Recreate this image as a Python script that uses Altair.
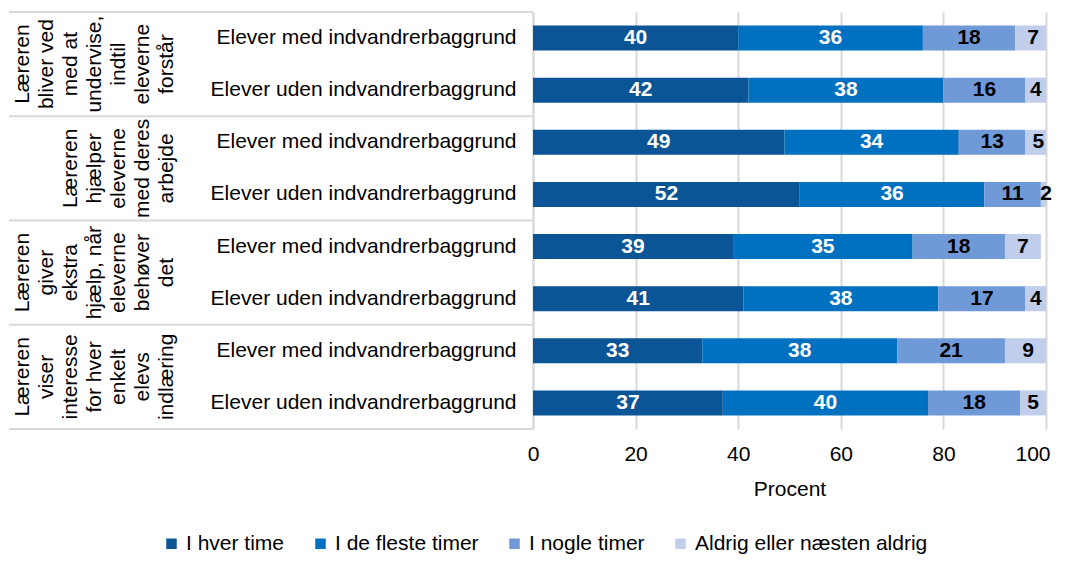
import altair as alt
import pandas as pd

groups = [
    "Læreren\nbliver ved\nmed at\nundervise,\nindtil\neleverne\nforstår",
    "Læreren\nhjælper\neleverne\nmed deres\narbejde",
    "Læreren\ngiver\nekstra\nhjælp, når\neleverne\nbehøver\ndet",
    "Læreren\nviser\ninteresse\nfor hver\nenkelt\nelevs\nindlæring",
]
row_labels = [
    "Elever med indvandrerbaggrund", "Elever uden indvandrerbaggrund",
    "Elever med indvandrerbaggrund", "Elever uden indvandrerbaggrund",
    "Elever med indvandrerbaggrund", "Elever uden indvandrerbaggrund",
    "Elever med indvandrerbaggrund", "Elever uden indvandrerbaggrund",
]
series = ["I hver time", "I de fleste timer", "I nogle timer", "Aldrig eller næsten aldrig"]
hver = [40, 42, 49, 52, 39, 41, 33, 37]
fleste = [36, 38, 34, 36, 35, 38, 38, 40]
nogle = [18, 16, 13, 11, 18, 17, 21, 18]
aldrig = [7, 4, 5, 2, 7, 4, 9, 5]
colors = ["#0B5596", "#0070C0", "#7099D8", "#C0CDEB"]

FONT = "Liberation Sans"
FS = 21
LH = 24

rows = []
for s_i, (name, vals) in enumerate(zip(series, [hver, fleste, nogle, aldrig])):
    for r, v in enumerate(vals):
        rows.append({"row": r, "series": name, "order": s_i, "value": v})
df = pd.DataFrame(rows)

gdf = pd.DataFrame({"gc": [1, 3, 5, 7], "label": groups})
bdf = pd.DataFrame({"b": [0, 2, 4, 6, 8]})

label_js = "[" + ",".join("'" + l + "'" for l in row_labels) + "]"

base = alt.Chart(df).transform_stack(
    stack="value", groupby=["row"], sort=[alt.SortField("order")], as_=["x0", "x1"]
).transform_calculate(mid="(datum.x0 + datum.x1) / 2")

band_scale = alt.Scale(paddingInner=0.52, paddingOuter=0.26)
yaxis = alt.Axis(
    title=None, labelExpr=label_js + "[datum.value]", labelFontSize=FS,
    labelFont=FONT, labelColor="black", ticks=False, labelPadding=17,
    domain=True, domainColor="#d9d9d9", domainWidth=2, labelLimit=400,
)
xscale = alt.Scale(domain=[0, 100], nice=False)
xaxis = alt.Axis(
    values=[0, 20, 40, 60, 80, 100], title="Procent", grid=True,
    gridColor="#d9d9d9", gridWidth=2, domain=False, ticks=False, labelFlush=False,
    labelAlign={"condition": {"test": "datum.value == 100", "value": "right"}, "value": "center"},
    labelOffset={"condition": {"test": "datum.value == 100", "value": 4}, "value": 0},
    labelFontSize=FS, labelFont=FONT, labelColor="black", labelPadding=14,
    titleFontSize=FS, titleFont=FONT, titleFontWeight="normal",
    titleColor="black", titlePadding=14,
)

bars = base.mark_bar(clip=True).encode(
    x=alt.X("x0:Q", scale=xscale, axis=xaxis),
    x2="x1:Q",
    y=alt.Y("row:O", scale=band_scale, axis=yaxis),
    color=alt.Color(
        "series:N",
        scale=alt.Scale(domain=series, range=colors),
        sort=series,
        legend=alt.Legend(
            title=None, orient="none", legendX=-372, legendY=521,
            direction="horizontal", symbolType="square", symbolSize=110,
            symbolStrokeWidth=0, labelFontSize=FS, labelFont=FONT,
            labelColor="black", columnPadding=25, labelOffset=4, labelLimit=400,
        ),
    ),
)

bar_text = base.mark_text(font=FONT, fontSize=FS, fontWeight="bold").encode(
    x=alt.X("mid:Q", scale=xscale, axis=xaxis),
    y=alt.Y("row:O", scale=band_scale, axis=yaxis),
    text="value:Q",
    color=alt.condition(alt.datum.order < 2, alt.value("white"), alt.value("black")),
)

rules = alt.Chart(bdf).mark_rule(color="#d9d9d9", strokeWidth=2).encode(
    y=alt.Y("b:Q", scale=alt.Scale(domain=[0, 8], reverse=True, nice=False), axis=None),
    x=alt.value(-524),
    x2=alt.value(0),
)

# multi-line rotated labels: lines stack to the right of the anchor, so the
# anchor moves left by one line height per extra line (right edge fixed).
gtext = alt.Chart(gdf).transform_calculate(
    n="length(split(datum.label, '\\n'))"
).mark_text(
    angle=270, align="center", baseline="bottom", lineBreak="\n",
    font=FONT, fontSize=FS, lineHeight=LH, color="black",
).encode(
    y=alt.Y("gc:Q", scale=alt.Scale(domain=[0, 8], reverse=True, nice=False), axis=None),
    x=alt.X("n:Q", scale=alt.Scale(domain=[1, 11], range=[-356, -356 - 10 * LH], nice=False, zero=False), axis=None),
    text="label:N",
)

chart = alt.layer(
    alt.layer(bars, bar_text),
    alt.layer(rules, gtext),
).resolve_scale(y="independent", x="independent").properties(
    width=513, height=417,
    autosize=alt.AutoSizeParams(type="none"),
    padding={"left": 525, "top": 4, "right": 13, "bottom": 125},
).configure_view(stroke=None)

chart.save("out.html", embed_options={"renderer": "svg", "actions": False})
